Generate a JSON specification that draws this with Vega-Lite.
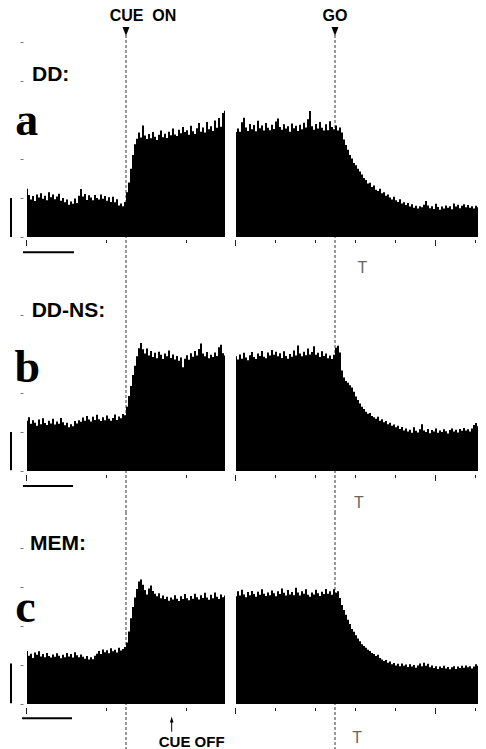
{
"$schema": "https://vega.github.io/schema/vega-lite/v6.json",
"padding": {"left": 10, "top": 0, "right": 0, "bottom": 0},
"background": "white",
"columns": 2,
"spacing": {"row": 0, "column": 9},
"bounds": "flush",
"config": {"view": {"stroke": null}, "axis": {"labels": false, "domain": false, "grid": false, "title": null, "tickColor": "#222", "tickWidth": 1, "tickRound": false}},
"datasets": {
"aL": [{"t":-990,"v":12.4},{"t":-970,"v":10.8},{"t":-950,"v":9.6},{"t":-930,"v":10.5},{"t":-910,"v":9.2},{"t":-890,"v":10.9},{"t":-870,"v":10.1},{"t":-850,"v":11.2},{"t":-830,"v":9.8},{"t":-810,"v":10.6},{"t":-790,"v":9.4},{"t":-770,"v":11.5},{"t":-750,"v":10.2},{"t":-730,"v":10.9},{"t":-710,"v":9.7},{"t":-690,"v":10.4},{"t":-670,"v":11.1},{"t":-650,"v":9.3},{"t":-630,"v":10.0},{"t":-610,"v":8.9},{"t":-590,"v":9.6},{"t":-570,"v":8.3},{"t":-550,"v":9.1},{"t":-530,"v":8.5},{"t":-510,"v":9.9},{"t":-490,"v":8.7},{"t":-470,"v":10.6},{"t":-450,"v":12.3},{"t":-430,"v":10.4},{"t":-410,"v":11.0},{"t":-390,"v":9.5},{"t":-370,"v":10.7},{"t":-350,"v":10.1},{"t":-330,"v":9.4},{"t":-310,"v":10.8},{"t":-290,"v":10.0},{"t":-270,"v":9.6},{"t":-250,"v":10.9},{"t":-230,"v":9.8},{"t":-210,"v":10.5},{"t":-190,"v":9.3},{"t":-170,"v":10.2},{"t":-150,"v":9.0},{"t":-130,"v":10.3},{"t":-110,"v":8.9},{"t":-90,"v":9.7},{"t":-70,"v":8.1},{"t":-50,"v":8.6},{"t":-30,"v":7.9},{"t":-10,"v":9.0},{"t":10,"v":11.5},{"t":30,"v":14.0},{"t":50,"v":17.5},{"t":70,"v":21.0},{"t":90,"v":23.8},{"t":110,"v":25.2},{"t":130,"v":26.8},{"t":150,"v":25.5},{"t":170,"v":28.6},{"t":190,"v":26.0},{"t":210,"v":25.1},{"t":230,"v":26.4},{"t":250,"v":25.3},{"t":270,"v":26.9},{"t":290,"v":25.7},{"t":310,"v":24.9},{"t":330,"v":26.2},{"t":350,"v":27.3},{"t":370,"v":25.6},{"t":390,"v":26.5},{"t":410,"v":25.4},{"t":430,"v":27.0},{"t":450,"v":26.1},{"t":470,"v":27.8},{"t":490,"v":26.3},{"t":510,"v":25.9},{"t":530,"v":27.5},{"t":550,"v":26.6},{"t":570,"v":28.2},{"t":590,"v":26.9},{"t":610,"v":27.4},{"t":630,"v":26.2},{"t":650,"v":28.5},{"t":670,"v":27.1},{"t":690,"v":26.4},{"t":710,"v":27.9},{"t":730,"v":29.2},{"t":750,"v":27.0},{"t":770,"v":28.1},{"t":790,"v":26.8},{"t":810,"v":29.5},{"t":830,"v":27.6},{"t":850,"v":28.4},{"t":870,"v":27.2},{"t":890,"v":29.9},{"t":910,"v":28.0},{"t":930,"v":30.5},{"t":950,"v":28.3},{"t":970,"v":31.8},{"t":990,"v":32.4}],
"aR": [{"t":-990,"v":26.9},{"t":-970,"v":27.8},{"t":-950,"v":27.0},{"t":-930,"v":29.4},{"t":-910,"v":30.6},{"t":-890,"v":28.1},{"t":-870,"v":27.2},{"t":-850,"v":29.0},{"t":-830,"v":27.6},{"t":-810,"v":28.7},{"t":-790,"v":27.1},{"t":-770,"v":29.8},{"t":-750,"v":27.9},{"t":-730,"v":28.6},{"t":-710,"v":27.3},{"t":-690,"v":29.2},{"t":-670,"v":28.0},{"t":-650,"v":27.4},{"t":-630,"v":28.8},{"t":-610,"v":27.7},{"t":-590,"v":29.6},{"t":-570,"v":30.4},{"t":-550,"v":28.2},{"t":-530,"v":27.5},{"t":-510,"v":28.9},{"t":-490,"v":27.8},{"t":-470,"v":28.4},{"t":-450,"v":27.0},{"t":-430,"v":29.1},{"t":-410,"v":27.9},{"t":-390,"v":28.5},{"t":-370,"v":27.2},{"t":-350,"v":28.8},{"t":-330,"v":27.6},{"t":-310,"v":29.3},{"t":-290,"v":28.1},{"t":-270,"v":30.2},{"t":-250,"v":32.3},{"t":-230,"v":28.4},{"t":-210,"v":27.5},{"t":-190,"v":29.0},{"t":-170,"v":27.8},{"t":-150,"v":29.5},{"t":-130,"v":28.0},{"t":-110,"v":27.3},{"t":-90,"v":28.9},{"t":-70,"v":27.4},{"t":-50,"v":29.7},{"t":-30,"v":28.2},{"t":-10,"v":27.6},{"t":10,"v":28.6},{"t":30,"v":27.3},{"t":50,"v":28.1},{"t":70,"v":26.8},{"t":90,"v":25.0},{"t":110,"v":23.6},{"t":130,"v":22.4},{"t":150,"v":21.0},{"t":170,"v":20.1},{"t":190,"v":19.0},{"t":210,"v":18.4},{"t":230,"v":17.5},{"t":250,"v":16.8},{"t":270,"v":16.0},{"t":290,"v":15.1},{"t":310,"v":14.6},{"t":330,"v":13.7},{"t":350,"v":13.9},{"t":370,"v":12.8},{"t":390,"v":13.2},{"t":410,"v":12.1},{"t":430,"v":11.8},{"t":450,"v":12.4},{"t":470,"v":11.2},{"t":490,"v":11.5},{"t":510,"v":10.6},{"t":530,"v":10.9},{"t":550,"v":10.1},{"t":570,"v":9.6},{"t":590,"v":10.3},{"t":610,"v":9.4},{"t":630,"v":9.0},{"t":650,"v":9.7},{"t":670,"v":8.6},{"t":690,"v":8.9},{"t":710,"v":8.2},{"t":730,"v":8.7},{"t":750,"v":7.8},{"t":770,"v":8.4},{"t":790,"v":7.5},{"t":810,"v":8.0},{"t":830,"v":7.3},{"t":850,"v":7.9},{"t":870,"v":7.6},{"t":890,"v":8.3},{"t":910,"v":9.2},{"t":930,"v":8.1},{"t":950,"v":7.4},{"t":970,"v":7.9},{"t":990,"v":7.2},{"t":1010,"v":8.5},{"t":1030,"v":7.7},{"t":1050,"v":7.0},{"t":1070,"v":7.8},{"t":1090,"v":7.3},{"t":1110,"v":8.1},{"t":1130,"v":7.5},{"t":1150,"v":7.9},{"t":1170,"v":7.1},{"t":1190,"v":8.6},{"t":1210,"v":7.8},{"t":1230,"v":8.3},{"t":1250,"v":7.4},{"t":1270,"v":8.0},{"t":1290,"v":8.4},{"t":1310,"v":7.6},{"t":1330,"v":8.2},{"t":1350,"v":7.5},{"t":1370,"v":7.9},{"t":1390,"v":7.3},{"t":1410,"v":8.0},{"t":1430,"v":7.6}],
"bL": [{"t":-990,"v":12.9},{"t":-970,"v":13.8},{"t":-950,"v":12.1},{"t":-930,"v":13.0},{"t":-910,"v":12.4},{"t":-890,"v":11.6},{"t":-870,"v":13.2},{"t":-850,"v":12.0},{"t":-830,"v":13.5},{"t":-810,"v":12.3},{"t":-790,"v":11.8},{"t":-770,"v":12.9},{"t":-750,"v":12.2},{"t":-730,"v":13.4},{"t":-710,"v":11.9},{"t":-690,"v":12.7},{"t":-670,"v":12.1},{"t":-650,"v":13.6},{"t":-630,"v":12.5},{"t":-610,"v":11.7},{"t":-590,"v":12.4},{"t":-570,"v":11.2},{"t":-550,"v":12.0},{"t":-530,"v":11.5},{"t":-510,"v":12.8},{"t":-490,"v":12.2},{"t":-470,"v":13.0},{"t":-450,"v":12.6},{"t":-430,"v":13.7},{"t":-410,"v":12.9},{"t":-390,"v":14.1},{"t":-370,"v":13.2},{"t":-350,"v":12.7},{"t":-330,"v":13.9},{"t":-310,"v":13.1},{"t":-290,"v":14.4},{"t":-270,"v":13.3},{"t":-250,"v":12.8},{"t":-230,"v":13.8},{"t":-210,"v":13.0},{"t":-190,"v":14.2},{"t":-170,"v":13.4},{"t":-150,"v":12.9},{"t":-130,"v":13.6},{"t":-110,"v":14.5},{"t":-90,"v":13.1},{"t":-70,"v":14.0},{"t":-50,"v":13.5},{"t":-30,"v":14.6},{"t":-10,"v":14.3},{"t":10,"v":16.5},{"t":30,"v":19.2},{"t":50,"v":21.8},{"t":70,"v":24.6},{"t":90,"v":27.0},{"t":110,"v":29.4},{"t":130,"v":31.5},{"t":150,"v":32.8},{"t":170,"v":31.2},{"t":190,"v":30.1},{"t":210,"v":31.4},{"t":230,"v":29.6},{"t":250,"v":30.8},{"t":270,"v":29.2},{"t":290,"v":30.3},{"t":310,"v":28.9},{"t":330,"v":30.6},{"t":350,"v":29.8},{"t":370,"v":28.7},{"t":390,"v":30.1},{"t":410,"v":29.4},{"t":430,"v":30.9},{"t":450,"v":29.0},{"t":470,"v":29.9},{"t":490,"v":28.6},{"t":510,"v":29.5},{"t":530,"v":28.3},{"t":550,"v":29.1},{"t":570,"v":26.6},{"t":590,"v":28.8},{"t":610,"v":29.7},{"t":630,"v":28.5},{"t":650,"v":30.2},{"t":670,"v":29.3},{"t":690,"v":30.8},{"t":710,"v":29.6},{"t":730,"v":31.3},{"t":750,"v":32.7},{"t":770,"v":30.1},{"t":790,"v":29.4},{"t":810,"v":30.5},{"t":830,"v":28.9},{"t":850,"v":29.8},{"t":870,"v":29.2},{"t":890,"v":30.4},{"t":910,"v":29.5},{"t":930,"v":31.7},{"t":950,"v":32.4},{"t":970,"v":30.2},{"t":990,"v":29.6}],
"bR": [{"t":-990,"v":29.4},{"t":-970,"v":28.6},{"t":-950,"v":29.9},{"t":-930,"v":28.8},{"t":-910,"v":30.3},{"t":-890,"v":29.1},{"t":-870,"v":28.4},{"t":-850,"v":29.7},{"t":-830,"v":30.5},{"t":-810,"v":29.2},{"t":-790,"v":28.7},{"t":-770,"v":30.1},{"t":-750,"v":29.5},{"t":-730,"v":30.8},{"t":-710,"v":29.3},{"t":-690,"v":28.9},{"t":-670,"v":30.4},{"t":-650,"v":29.6},{"t":-630,"v":31.0},{"t":-610,"v":29.8},{"t":-590,"v":30.6},{"t":-570,"v":29.4},{"t":-550,"v":30.2},{"t":-530,"v":29.0},{"t":-510,"v":30.7},{"t":-490,"v":29.5},{"t":-470,"v":28.8},{"t":-450,"v":30.0},{"t":-430,"v":29.3},{"t":-410,"v":30.9},{"t":-390,"v":29.6},{"t":-370,"v":32.2},{"t":-350,"v":30.1},{"t":-330,"v":29.4},{"t":-310,"v":30.6},{"t":-290,"v":29.7},{"t":-270,"v":31.4},{"t":-250,"v":29.9},{"t":-230,"v":30.5},{"t":-210,"v":32.0},{"t":-190,"v":29.8},{"t":-170,"v":30.3},{"t":-150,"v":29.2},{"t":-130,"v":30.7},{"t":-110,"v":29.5},{"t":-90,"v":30.1},{"t":-70,"v":28.9},{"t":-50,"v":29.6},{"t":-30,"v":28.7},{"t":-10,"v":29.8},{"t":10,"v":31.6},{"t":30,"v":32.1},{"t":50,"v":30.4},{"t":70,"v":25.8},{"t":90,"v":24.0},{"t":110,"v":23.1},{"t":130,"v":22.6},{"t":150,"v":22.0},{"t":170,"v":21.4},{"t":190,"v":20.3},{"t":210,"v":19.1},{"t":230,"v":18.2},{"t":250,"v":17.3},{"t":270,"v":16.5},{"t":290,"v":15.9},{"t":310,"v":15.2},{"t":330,"v":14.7},{"t":350,"v":14.9},{"t":370,"v":14.1},{"t":390,"v":13.8},{"t":410,"v":13.4},{"t":430,"v":13.9},{"t":450,"v":12.9},{"t":470,"v":13.3},{"t":490,"v":12.5},{"t":510,"v":12.8},{"t":530,"v":12.0},{"t":550,"v":12.4},{"t":570,"v":11.6},{"t":590,"v":11.9},{"t":610,"v":11.2},{"t":630,"v":11.6},{"t":650,"v":10.8},{"t":670,"v":11.3},{"t":690,"v":10.4},{"t":710,"v":10.9},{"t":730,"v":10.1},{"t":750,"v":10.6},{"t":770,"v":9.8},{"t":790,"v":11.2},{"t":810,"v":10.3},{"t":830,"v":9.9},{"t":850,"v":10.7},{"t":870,"v":12.0},{"t":890,"v":10.4},{"t":910,"v":10.0},{"t":930,"v":10.8},{"t":950,"v":9.7},{"t":970,"v":10.5},{"t":990,"v":10.1},{"t":1010,"v":10.9},{"t":1030,"v":9.8},{"t":1050,"v":10.4},{"t":1070,"v":10.0},{"t":1090,"v":10.7},{"t":1110,"v":10.2},{"t":1130,"v":9.6},{"t":1150,"v":10.5},{"t":1170,"v":10.9},{"t":1190,"v":10.1},{"t":1210,"v":10.6},{"t":1230,"v":9.9},{"t":1250,"v":10.8},{"t":1270,"v":10.3},{"t":1290,"v":11.0},{"t":1310,"v":10.4},{"t":1330,"v":10.7},{"t":1350,"v":10.1},{"t":1370,"v":10.9},{"t":1390,"v":11.8},{"t":1410,"v":12.3},{"t":1430,"v":11.5}],
"cL": [{"t":-990,"v":13.6},{"t":-970,"v":12.4},{"t":-950,"v":12.9},{"t":-930,"v":11.8},{"t":-910,"v":13.2},{"t":-890,"v":12.6},{"t":-870,"v":13.5},{"t":-850,"v":12.2},{"t":-830,"v":12.8},{"t":-810,"v":12.0},{"t":-790,"v":13.1},{"t":-770,"v":12.3},{"t":-750,"v":11.9},{"t":-730,"v":12.7},{"t":-710,"v":12.1},{"t":-690,"v":13.0},{"t":-670,"v":12.4},{"t":-650,"v":11.7},{"t":-630,"v":12.6},{"t":-610,"v":12.0},{"t":-590,"v":13.1},{"t":-570,"v":12.2},{"t":-550,"v":12.8},{"t":-530,"v":11.9},{"t":-510,"v":13.3},{"t":-490,"v":12.5},{"t":-470,"v":12.0},{"t":-450,"v":12.7},{"t":-430,"v":12.1},{"t":-410,"v":11.6},{"t":-390,"v":12.3},{"t":-370,"v":11.4},{"t":-350,"v":12.0},{"t":-330,"v":11.5},{"t":-310,"v":12.4},{"t":-290,"v":12.9},{"t":-270,"v":13.6},{"t":-250,"v":12.8},{"t":-230,"v":14.0},{"t":-210,"v":13.3},{"t":-190,"v":13.8},{"t":-170,"v":13.0},{"t":-150,"v":14.3},{"t":-130,"v":13.5},{"t":-110,"v":13.9},{"t":-90,"v":13.2},{"t":-70,"v":14.4},{"t":-50,"v":13.7},{"t":-30,"v":14.1},{"t":-10,"v":14.6},{"t":10,"v":15.8},{"t":30,"v":18.6},{"t":50,"v":22.0},{"t":70,"v":24.9},{"t":90,"v":27.3},{"t":110,"v":29.5},{"t":130,"v":31.4},{"t":150,"v":31.9},{"t":170,"v":30.6},{"t":190,"v":29.2},{"t":210,"v":28.1},{"t":230,"v":29.6},{"t":250,"v":30.4},{"t":270,"v":29.0},{"t":290,"v":28.3},{"t":310,"v":27.6},{"t":330,"v":28.4},{"t":350,"v":27.1},{"t":370,"v":27.8},{"t":390,"v":26.9},{"t":410,"v":27.5},{"t":430,"v":26.5},{"t":450,"v":27.3},{"t":470,"v":26.8},{"t":490,"v":27.9},{"t":510,"v":27.0},{"t":530,"v":26.4},{"t":550,"v":27.6},{"t":570,"v":26.9},{"t":590,"v":28.2},{"t":610,"v":27.1},{"t":630,"v":26.6},{"t":650,"v":27.7},{"t":670,"v":27.0},{"t":690,"v":28.3},{"t":710,"v":27.4},{"t":730,"v":26.8},{"t":750,"v":27.9},{"t":770,"v":27.2},{"t":790,"v":28.5},{"t":810,"v":27.3},{"t":830,"v":26.7},{"t":850,"v":28.0},{"t":870,"v":27.1},{"t":890,"v":28.6},{"t":910,"v":27.5},{"t":930,"v":26.9},{"t":950,"v":28.1},{"t":970,"v":27.4},{"t":990,"v":27.8}],
"cR": [{"t":-990,"v":27.6},{"t":-970,"v":28.9},{"t":-950,"v":27.8},{"t":-930,"v":29.3},{"t":-910,"v":28.1},{"t":-890,"v":27.4},{"t":-870,"v":28.7},{"t":-850,"v":27.9},{"t":-830,"v":29.0},{"t":-810,"v":28.2},{"t":-790,"v":27.5},{"t":-770,"v":28.8},{"t":-750,"v":28.0},{"t":-730,"v":29.4},{"t":-710,"v":28.3},{"t":-690,"v":27.7},{"t":-670,"v":28.6},{"t":-650,"v":27.9},{"t":-630,"v":29.1},{"t":-610,"v":28.4},{"t":-590,"v":27.6},{"t":-570,"v":28.9},{"t":-550,"v":28.2},{"t":-530,"v":29.6},{"t":-510,"v":28.5},{"t":-490,"v":27.8},{"t":-470,"v":29.2},{"t":-450,"v":28.1},{"t":-430,"v":28.7},{"t":-410,"v":27.9},{"t":-390,"v":29.8},{"t":-370,"v":28.6},{"t":-350,"v":27.8},{"t":-330,"v":28.9},{"t":-310,"v":28.3},{"t":-290,"v":29.4},{"t":-270,"v":28.0},{"t":-250,"v":27.5},{"t":-230,"v":28.6},{"t":-210,"v":28.1},{"t":-190,"v":29.3},{"t":-170,"v":28.4},{"t":-150,"v":27.7},{"t":-130,"v":28.8},{"t":-110,"v":28.2},{"t":-90,"v":29.5},{"t":-70,"v":28.3},{"t":-50,"v":28.9},{"t":-30,"v":28.0},{"t":-10,"v":29.4},{"t":10,"v":28.5},{"t":30,"v":28.9},{"t":50,"v":27.2},{"t":70,"v":25.4},{"t":90,"v":24.1},{"t":110,"v":22.9},{"t":130,"v":21.6},{"t":150,"v":20.5},{"t":170,"v":19.2},{"t":190,"v":18.5},{"t":210,"v":17.6},{"t":230,"v":16.8},{"t":250,"v":16.1},{"t":270,"v":15.3},{"t":290,"v":14.9},{"t":310,"v":14.4},{"t":330,"v":13.9},{"t":350,"v":13.6},{"t":370,"v":13.1},{"t":390,"v":12.8},{"t":410,"v":12.3},{"t":430,"v":12.6},{"t":450,"v":11.8},{"t":470,"v":11.4},{"t":490,"v":11.0},{"t":510,"v":11.3},{"t":530,"v":10.6},{"t":550,"v":10.9},{"t":570,"v":10.2},{"t":590,"v":10.5},{"t":610,"v":9.9},{"t":630,"v":10.3},{"t":650,"v":9.7},{"t":670,"v":10.4},{"t":690,"v":9.8},{"t":710,"v":10.1},{"t":730,"v":9.5},{"t":750,"v":10.2},{"t":770,"v":9.6},{"t":790,"v":10.0},{"t":810,"v":9.3},{"t":830,"v":9.9},{"t":850,"v":10.4},{"t":870,"v":9.7},{"t":890,"v":10.6},{"t":910,"v":9.8},{"t":930,"v":10.3},{"t":950,"v":9.4},{"t":970,"v":9.9},{"t":990,"v":9.2},{"t":1010,"v":9.7},{"t":1030,"v":9.0},{"t":1050,"v":9.6},{"t":1070,"v":9.2},{"t":1090,"v":9.8},{"t":1110,"v":9.1},{"t":1130,"v":9.5},{"t":1150,"v":8.9},{"t":1170,"v":9.4},{"t":1190,"v":9.7},{"t":1210,"v":9.0},{"t":1230,"v":9.6},{"t":1250,"v":9.2},{"t":1270,"v":9.8},{"t":1290,"v":9.3},{"t":1310,"v":9.9},{"t":1330,"v":9.4},{"t":1350,"v":9.7},{"t":1370,"v":9.1},{"t":1390,"v":9.6},{"t":1410,"v":10.2},{"t":1430,"v":9.8}]
},
"concat": [
 {"width": 200, "height": 275, "layer": [
  {"data": {"values": [{}]}, "mark": {"type": "rule", "strokeDash": [3, 2], "color": "#333", "strokeWidth": 1}, "encoding": {"x": {"datum": 0}, "y": {"datum": 51.8}, "y2": {"datum": -9.744}}},
  {"data": {"name": "aL"}, "mark": {"type": "area", "interpolate": "step", "color": "black"},
   "encoding": {"x": {"field": "t", "type": "quantitative", "scale": {"domain": [-1000, 1000], "nice": false},
     "axis": {"values": [-1000,-900,-800,-700,-600,-500,-400,-300,-200,-100,0,100,200,300,400,500,600,700,800,900,1000], "tickSize": {"condition": {"test": "datum.value % 500 === 0", "value": 6}, "value": 3}, "offset": -35.5}},
    "y": {"field": "v", "type": "quantitative", "scale": {"domain": [-9.744, 60.769], "nice": false}, "axis": {"values": [0,5,10,15,20,25,30,35,40,45,50], "tickSize": 3, "offset": 3, "tickColor": "#777"}},
    "y2": {"datum": 0}}},
  {"data": {"values": [{}]}, "mark": {"type": "point", "shape": "M-0.8,-1L0.8,-1L0,1Z", "filled": true, "color": "black", "opacity": 1, "size": 76}, "encoding": {"x": {"datum": 0}, "y": {"datum": 52.7}}},
  {"data": {"values": [{}]}, "mark": {"type": "text", "text": "CUE\u00a0\u00a0ON", "align": "center", "baseline": "alphabetic", "font": "Liberation Sans", "fontWeight": "bold", "fontSize": 16, "color": "black"}, "encoding": {"x": {"datum": 170}, "y": {"datum": 55.4}}},
  {"data": {"values": [{}]}, "mark": {"type": "text", "text": "DD:", "align": "left", "baseline": "alphabetic", "font": "Liberation Sans", "fontWeight": "bold", "fontSize": 21, "color": "black"}, "encoding": {"x": {"datum": -940}, "y": {"datum": 40}}},
  {"data": {"values": [{}]}, "mark": {"type": "text", "text": "a", "align": "left", "baseline": "alphabetic", "font": "Liberation Serif", "fontWeight": "bold", "fontSize": 46, "color": "black"}, "encoding": {"x": {"datum": -1107}, "y": {"datum": 26.2}}},
  {"data": {"values": [{}]}, "mark": {"type": "rule", "color": "black", "strokeWidth": 2}, "encoding": {"x": {"datum": -1150}, "y": {"datum": 0}, "y2": {"datum": 10}}},
  {"data": {"values": [{}]}, "mark": {"type": "rule", "color": "black", "strokeWidth": 2}, "encoding": {"x": {"datum": -1030}, "x2": {"datum": -520}, "y": {"datum": -3.9}}}
 ]},
 {"width": 244, "height": 275, "layer": [
  {"data": {"values": [{}]}, "mark": {"type": "rule", "strokeDash": [3, 2], "color": "#333", "strokeWidth": 1}, "encoding": {"x": {"datum": 0}, "y": {"datum": 51.8}, "y2": {"datum": -9.744}}},
  {"data": {"name": "aR"}, "mark": {"type": "area", "interpolate": "step", "color": "black"},
   "encoding": {"x": {"field": "t", "type": "quantitative", "scale": {"domain": [-1000, 1440], "nice": false},
     "axis": {"values": [-1000,-900,-800,-700,-600,-500,-400,-300,-200,-100,0,100,200,300,400,500,600,700,800,900,1000,1100,1200,1300,1400], "tickSize": {"condition": {"test": "datum.value % 500 === 0", "value": 6}, "value": 3}, "offset": -35.5}},
    "y": {"field": "v", "type": "quantitative", "scale": {"domain": [-9.744, 60.769], "nice": false}, "axis": null},
    "y2": {"datum": 0}}},
  {"data": {"values": [{}]}, "mark": {"type": "point", "shape": "M-0.8,-1L0.8,-1L0,1Z", "filled": true, "color": "black", "opacity": 1, "size": 76}, "encoding": {"x": {"datum": 0}, "y": {"datum": 52.7}}},
  {"data": {"values": [{}]}, "mark": {"type": "text", "text": "GO", "align": "center", "baseline": "alphabetic", "font": "Liberation Sans", "fontWeight": "bold", "fontSize": 16, "color": "black"}, "encoding": {"x": {"datum": 0}, "y": {"datum": 55.4}}},
  {"data": {"values": [{}]}, "mark": {"type": "text", "text": "T", "align": "center", "baseline": "alphabetic", "font": "Liberation Sans", "fontSize": 16, "color": "#666"}, "encoding": {"x": {"datum": 275}, "y": {"datum": -9.3}}}
 ]},
 {"width": 200, "height": 237, "layer": [
  {"data": {"values": [{}]}, "mark": {"type": "rule", "strokeDash": [3, 2], "color": "#333", "strokeWidth": 1}, "encoding": {"x": {"datum": 0}}},
  {"data": {"name": "bL"}, "mark": {"type": "area", "interpolate": "step", "color": "black"},
   "encoding": {"x": {"field": "t", "type": "quantitative", "scale": {"domain": [-1000, 1000], "nice": false},
     "axis": {"values": [-1000,-900,-800,-700,-600,-500,-400,-300,-200,-100,0,100,200,300,400,500,600,700,800,900,1000], "tickSize": {"condition": {"test": "datum.value % 500 === 0", "value": 6}, "value": 3}, "offset": -37.5}},
    "y": {"field": "v", "type": "quantitative", "scale": {"domain": [-10.513, 50.256], "nice": false}, "axis": {"values": [0,5,10,15,20,25,30,35,40,45], "tickSize": 3, "offset": 3, "tickColor": "#777"}},
    "y2": {"datum": 0}}},
  {"data": {"values": [{}]}, "mark": {"type": "text", "text": "DD-NS:", "align": "left", "baseline": "alphabetic", "font": "Liberation Sans", "fontWeight": "bold", "fontSize": 21, "color": "black"}, "encoding": {"x": {"datum": -943}, "y": {"datum": 39.6}}},
  {"data": {"values": [{}]}, "mark": {"type": "text", "text": "b", "align": "left", "baseline": "alphabetic", "font": "Liberation Serif", "fontWeight": "bold", "fontSize": 46, "color": "black"}, "encoding": {"x": {"datum": -1115}, "y": {"datum": 22.9}}},
  {"data": {"values": [{}]}, "mark": {"type": "rule", "color": "black", "strokeWidth": 2}, "encoding": {"x": {"datum": -1150}, "y": {"datum": 0.2}, "y2": {"datum": 10}}},
  {"data": {"values": [{}]}, "mark": {"type": "rule", "color": "black", "strokeWidth": 2}, "encoding": {"x": {"datum": -1030}, "x2": {"datum": -530}, "y": {"datum": -3.85}}}
 ]},
 {"width": 244, "height": 237, "layer": [
  {"data": {"values": [{}]}, "mark": {"type": "rule", "strokeDash": [3, 2], "color": "#333", "strokeWidth": 1}, "encoding": {"x": {"datum": 0}}},
  {"data": {"name": "bR"}, "mark": {"type": "area", "interpolate": "step", "color": "black"},
   "encoding": {"x": {"field": "t", "type": "quantitative", "scale": {"domain": [-1000, 1440], "nice": false},
     "axis": {"values": [-1000,-900,-800,-700,-600,-500,-400,-300,-200,-100,0,100,200,300,400,500,600,700,800,900,1000,1100,1200,1300,1400], "tickSize": {"condition": {"test": "datum.value % 500 === 0", "value": 6}, "value": 3}, "offset": -37.5}},
    "y": {"field": "v", "type": "quantitative", "scale": {"domain": [-10.513, 50.256], "nice": false}, "axis": null},
    "y2": {"datum": 0}}},
  {"data": {"values": [{}]}, "mark": {"type": "text", "text": "T", "align": "center", "baseline": "alphabetic", "font": "Liberation Sans", "fontSize": 16, "color": "#666"}, "encoding": {"x": {"datum": 238}, "y": {"datum": -9.6}}}
 ]},
 {"width": 200, "height": 237, "layer": [
  {"data": {"values": [{}]}, "mark": {"type": "rule", "strokeDash": [3, 2], "color": "#333", "strokeWidth": 1}, "encoding": {"x": {"datum": 0}}},
  {"data": {"name": "cL"}, "mark": {"type": "area", "interpolate": "step", "color": "black"},
   "encoding": {"x": {"field": "t", "type": "quantitative", "scale": {"domain": [-1000, 1000], "nice": false},
     "axis": {"values": [-1000,-900,-800,-700,-600,-500,-400,-300,-200,-100,0,100,200,300,400,500,600,700,800,900,1000], "tickSize": {"condition": {"test": "datum.value % 500 === 0", "value": 6}, "value": 3}, "offset": -41.5}},
    "y": {"field": "v", "type": "quantitative", "scale": {"domain": [-11.538, 49.231], "nice": false}, "axis": {"values": [0,5,10,15,20,25,30,35,40,45], "tickSize": 3, "offset": 3, "tickColor": "#777"}},
    "y2": {"datum": 0}}},
  {"data": {"values": [{}]}, "mark": {"type": "text", "text": "MEM:", "align": "left", "baseline": "alphabetic", "font": "Liberation Sans", "fontWeight": "bold", "fontSize": 21, "color": "black"}, "encoding": {"x": {"datum": -960}, "y": {"datum": 39.5}}},
  {"data": {"values": [{}]}, "mark": {"type": "text", "text": "c", "align": "left", "baseline": "alphabetic", "font": "Liberation Serif", "fontWeight": "bold", "fontSize": 46, "color": "black"}, "encoding": {"x": {"datum": -1107}, "y": {"datum": 21.1}}},
  {"data": {"values": [{}]}, "mark": {"type": "rule", "color": "black", "strokeWidth": 2}, "encoding": {"x": {"datum": -1150}, "y": {"datum": 0.2}, "y2": {"datum": 10.4}}},
  {"data": {"values": [{}]}, "mark": {"type": "rule", "color": "black", "strokeWidth": 2}, "encoding": {"x": {"datum": -1040}, "x2": {"datum": -540}, "y": {"datum": -3.67}}},
  {"data": {"values": [{}]}, "mark": {"type": "rule", "color": "black", "strokeWidth": 1}, "encoding": {"x": {"datum": 457}, "y": {"datum": -4.4}, "y2": {"datum": -7.1}}},
  {"data": {"values": [{}]}, "mark": {"type": "point", "shape": "M0,-1L0.6,1L-0.6,1Z", "filled": true, "color": "black", "opacity": 1, "size": 36}, "encoding": {"x": {"datum": 457}, "y": {"datum": -3.97}}},
  {"data": {"values": [{}]}, "mark": {"type": "text", "text": "CUE OFF", "align": "center", "baseline": "alphabetic", "font": "Liberation Sans", "fontWeight": "bold", "fontSize": 15, "color": "black"}, "encoding": {"x": {"datum": 657}, "y": {"datum": -10.9}}}
 ]},
 {"width": 244, "height": 237, "layer": [
  {"data": {"values": [{}]}, "mark": {"type": "rule", "strokeDash": [3, 2], "color": "#333", "strokeWidth": 1}, "encoding": {"x": {"datum": 0}}},
  {"data": {"name": "cR"}, "mark": {"type": "area", "interpolate": "step", "color": "black"},
   "encoding": {"x": {"field": "t", "type": "quantitative", "scale": {"domain": [-1000, 1440], "nice": false},
     "axis": {"values": [-1000,-900,-800,-700,-600,-500,-400,-300,-200,-100,0,100,200,300,400,500,600,700,800,900,1000,1100,1200,1300,1400], "tickSize": {"condition": {"test": "datum.value % 500 === 0", "value": 6}, "value": 3}, "offset": -41.5}},
    "y": {"field": "v", "type": "quantitative", "scale": {"domain": [-11.538, 49.231], "nice": false}, "axis": null},
    "y2": {"datum": 0}}},
  {"data": {"values": [{}]}, "mark": {"type": "text", "text": "T", "align": "center", "baseline": "alphabetic", "font": "Liberation Sans", "fontSize": 16, "color": "#666"}, "encoding": {"x": {"datum": 222}, "y": {"datum": -10.1}}}
 ]}
]
}
